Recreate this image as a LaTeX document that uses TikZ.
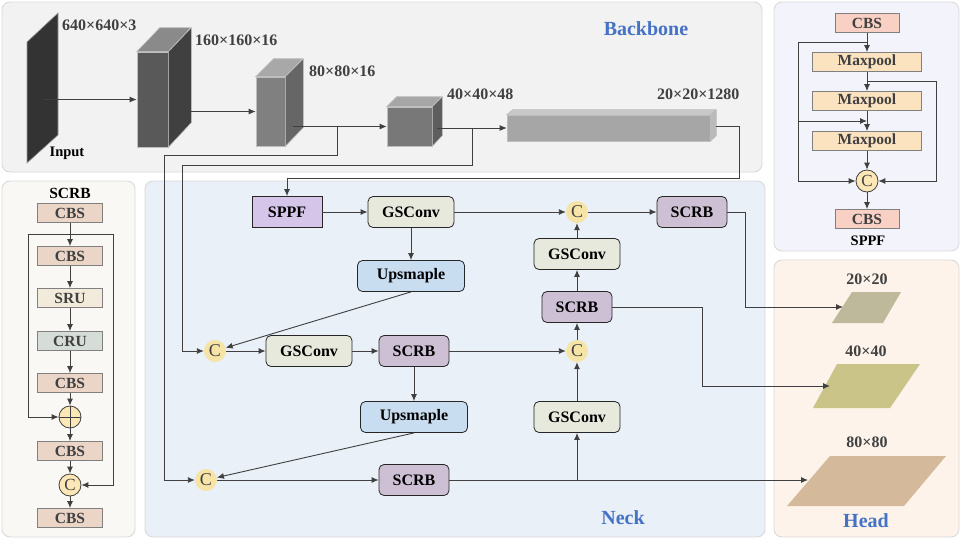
\documentclass[tikz,border=0pt]{standalone}
\usepackage{fontspec}
\setmainfont{Liberation Serif}
\usetikzlibrary{arrows.meta,calc}
\definecolor{linec}{HTML}{404040}
\definecolor{txtc}{HTML}{404040}
\definecolor{bluec}{HTML}{4472C4}
\definecolor{bbc}{HTML}{F2F2F2}
\definecolor{sppfpc}{HTML}{F3F3FC}
\definecolor{scrbpc}{HTML}{F9F8F4}
\definecolor{neckc}{HTML}{E9F0F7}
\definecolor{headc}{HTML}{FDF3EA}
\definecolor{panelc}{HTML}{D9D9D9}
\definecolor{sppfc}{HTML}{D5C5E9}
\definecolor{gscc}{HTML}{E6E9DC}
\definecolor{upsc}{HTML}{C9DDF1}
\definecolor{scrbc}{HTML}{CEC0D4}
\definecolor{catc}{HTML}{F6E3A6}
\definecolor{pcatc}{HTML}{FCE8B6}
\definecolor{cbsc}{HTML}{F9D0C4}
\definecolor{mpc}{HTML}{FBE3C0}
\definecolor{kc}{HTML}{EBD5C7}
\definecolor{sruc}{HTML}{F2EADB}
\definecolor{cruc}{HTML}{D6DCD8}
\definecolor{h20c}{HTML}{BFB99B}
\definecolor{h40c}{HTML}{CBC488}
\definecolor{h80c}{HTML}{D5B99B}

\begin{document}
\begin{tikzpicture}[x=1pt,y=-1pt,
	lnk/.style={draw=linec,line width=0.9pt,-{Latex[length=7pt,width=6pt]}},
	panel/.style={draw=panelc,rounded corners=8pt,line width=0.9pt},
	title/.style={font=\fontsize{20}{20}\selectfont\bfseries,text=bluec,inner sep=0pt},
	dim/.style={font=\fontsize{16}{16}\selectfont\bfseries,text=txtc,inner sep=0pt},
	cube/.style={draw=black!25,line width=0.6pt,inner sep=0pt},
	nb/.style={draw=black!85,rounded corners=5pt,line width=0.8pt,minimum height=31pt,inner sep=0pt,font=\fontsize{16}{16}\selectfont\bfseries},
	gsc/.style={nb,fill=gscc,minimum width=86pt},
	scrb/.style={nb,fill=scrbc,minimum width=70pt},
	ups/.style={nb,fill=upsc,minimum width=107pt},
	cat/.style={circle,fill=catc,minimum size=22pt,inner sep=0pt,text=txtc,font=\fontsize{18}{18}\selectfont},
	sb/.style={draw=black!50,line width=0.8pt,minimum height=19pt,inner sep=0pt,text=txtc,font=\fontsize{15.5}{15.5}\selectfont\bfseries},
	pc/.style={circle,draw=black!75,fill=pcatc,minimum size=22pt,inner sep=0pt,line width=0.8pt,text=txtc,font=\fontsize{17}{17}\selectfont}]
	\useasboundingbox (0,0) rectangle (961,544);
	% panels
	\filldraw[panel,fill=bbc] (2,2) rectangle (762,172);
	\filldraw[panel,fill=sppfpc] (774,2) rectangle (959,251);
	\filldraw[panel,fill=scrbpc] (2,181) rectangle (135,537);
	\filldraw[panel,fill=neckc] (145,181) rectangle (765,537);
	\filldraw[panel,fill=headc] (774,260) rectangle (959,537);
	\node[title] (tbb) at (646,29) {Backbone};
	\node[title] (tneck) at (623,518) {Neck};
	\node[title] (thead) at (866,521) {Head};
	% backbone
	\filldraw[fill=black!80,draw=black!40,line width=0.6pt] (27,42) -- (58,13) -- (58,135) -- (27,163) -- cycle;
	\coordinate (in) at (44,99.5);
	\node[dim,anchor=west] (d640) at (62,25) {640×640×3};
	\node[font=\fontsize{14.5}{14.5}\selectfont\bfseries,inner sep=0pt] (tin) at (67,153) {Input};
	\node[cube,fill=black!65,minimum width=31pt,minimum height=95pt] (c160) at (152.5,99.5) {};
	\filldraw[cube,fill=black!46] (c160.north west) -- ++(23,-24) -- ++(31,0) -- (c160.north east) -- cycle;
	\filldraw[cube,fill=black!75] (c160.north east) -- ++(23,-24) -- ++(0,95) -- (c160.south east) -- cycle;
	\node[dim,anchor=west] (d160) at (195,40) {160×160×16};
	\node[cube,fill=black!50,minimum width=29pt,minimum height=69pt] (c80) at (270.5,111.5) {};
	\filldraw[cube,fill=black!34] (c80.north west) -- ++(18,-18) -- ++(29,0) -- (c80.north east) -- cycle;
	\filldraw[cube,fill=black!60] (c80.north east) -- ++(18,-18) -- ++(0,69) -- (c80.south east) -- cycle;
	\node[dim,anchor=west] (d80) at (309,71) {80×80×16};
	\node[cube,fill=black!53,minimum width=45pt,minimum height=39pt] (c40) at (409.5,126.5) {};
	\filldraw[cube,fill=black!35] (c40.north west) -- ++(10,-10) -- ++(45,0) -- (c40.north east) -- cycle;
	\filldraw[cube,fill=black!63] (c40.north east) -- ++(10,-10) -- ++(0,39) -- (c40.south east) -- cycle;
	\node[dim,anchor=west] (d40) at (447,94) {40×40×48};
	\node[cube,fill=black!35,minimum width=203pt,minimum height=26pt] (bar) at (608.5,128) {};
	\filldraw[cube,fill=black!21] (bar.north west) -- ++(6,-5) -- ++(203,0) -- (bar.north east) -- cycle;
	\filldraw[cube,fill=black!27] (bar.north east) -- ++(6,-5) -- ++(0,26) -- (bar.south east) -- cycle;
	\node[dim,anchor=west] (d20) at (657,94) {20×20×1280};
	\draw[lnk] (in) -- (c160.west);
	\draw[lnk] (c160.east) ++(5,12) -- (c80.west);
	\draw[lnk] (c80.east) ++(8,15) -- (c40.west);
	\draw[lnk] (c40.east) ++(5,1.5) -- (bar.west);
	\coordinate (b80) at (337,126.5);
	\coordinate (b40) at (472,128);
	% neck
	\node[nb,fill=sppfc,rounded corners=0pt,minimum width=70pt] (sppf) at (287,212) {SPPF};
	\node[gsc] (gsc1) at (411,212) {GSConv};
	\node[ups] (up1) at (411,276) {Upsmaple};
	\node[cat] (c1) at (215,351) {C};
	\node[gsc] (gsc2) at (309,351) {GSConv};
	\node[scrb] (scrb2) at (414,351) {SCRB};
	\node[ups] (up2) at (414,417) {Upsmaple};
	\node[cat] (c4) at (206,480) {C};
	\node[scrb] (scrb4) at (414,480) {SCRB};
	\node[cat] (c2) at (577,212) {C};
	\node[scrb] (scrb1) at (692,212) {SCRB};
	\node[gsc] (gsc3) at (577,254) {GSConv};
	\node[scrb] (scrb3) at (577,307) {SCRB};
	\node[cat] (c3) at (577,351) {C};
	\node[gsc] (gsc4) at (577,417) {GSConv};
	\draw[lnk] (b80) |- (164,155) |- (c4.west);
	\draw[lnk] (b40) |- (182,165) |- (c1.west);
	\draw[lnk] (bar.east) ++(6,-2) -| (739,178) -| (sppf.north);
	\draw[lnk] (sppf) -- (gsc1);
	\draw[lnk] (gsc1) -- (c2);
	\draw[lnk] (c2) -- (scrb1);
	\draw[lnk] (gsc1) -- (up1);
	\draw[lnk] (up1.south) -- (c1);
	\draw[lnk] (c1) -- (gsc2);
	\draw[lnk] (gsc2) -- (scrb2);
	\draw[lnk] (scrb2) -- (c3);
	\draw[lnk] (scrb2) -- (up2);
	\draw[lnk] (up2.south) -- (c4);
	\draw[lnk] (c4) -- (scrb4);
	\draw[lnk] (c3) -- (scrb3);
	\draw[lnk] (scrb3) -- (gsc3);
	\draw[lnk] (gsc3) -- (c2);
	\draw[lnk] (gsc4) -- (c3);
	\draw[lnk] (gsc4.south |- scrb4) -- (gsc4);
	% head
	\fill[h20c] (852,292) -- (901,292) -- (883,323) -- (832,323) -- cycle;
	\fill[h40c] (837,364) -- (920,364) -- (890,408) -- (813,408) -- cycle;
	\fill[h80c] (830,456) -- (946,456) -- (904,506) -- (787,506) -- cycle;
	\coordinate (h20) at (843,307);
	\coordinate (h40) at (830,386);
	\coordinate (h80) at (808,480);
	\node[dim] (l20) at (867,279) {20×20};
	\node[dim] (l40) at (866,351) {40×40};
	\node[dim] (l80) at (867,442) {80×80};
	\draw[lnk] (scrb1) -| (745,307) -- (h20);
	\draw[lnk] (scrb3) -| (702,386) -- (h40);
	\draw[lnk] (scrb4) -- (h80);
	% SPPF block
	\node[sb,fill=cbsc,minimum width=64pt] (sc1) at (867,23) {CBS};
	\node[sb,fill=mpc,minimum width=109pt] (mp1) at (867,62) {Maxpool};
	\node[sb,fill=mpc,minimum width=109pt] (mp2) at (867,101) {Maxpool};
	\node[sb,fill=mpc,minimum width=109pt] (mp3) at (867,141) {Maxpool};
	\node[pc] (spc) at (867,181) {C};
	\node[sb,fill=cbsc,minimum width=64pt] (sc2) at (867,219) {CBS};
	\node[font=\fontsize{14.5}{14.5}\selectfont\bfseries,inner sep=0pt] (tsppf) at (868,241) {SPPF};
	\coordinate (sl) at (798,121);
	\draw[lnk] (sc1) -- (mp1);
	\draw[lnk] (mp1) -- (mp2);
	\draw[lnk] (mp2) -- (mp3);
	\draw[lnk] (mp3) -- (spc);
	\draw[lnk] (spc) -- (sc2);
	\draw[lnk] ($(sc1.south)!.5!(mp1.north)$) -| (798,181) -- (spc);
	\draw[lnk] ($(mp1.south)!.5!(mp2.north)$) -| (936,181) -- (spc);
	\draw[lnk] (sl) -- (sl -| mp3.north);
	% SCRB block
	\node[font=\fontsize{15.5}{15.5}\selectfont\bfseries,inner sep=0pt] (tscrb) at (70,193) {SCRB};
	\node[sb,fill=kc,minimum width=65pt] (k1) at (70,213) {CBS};
	\node[sb,fill=kc,minimum width=65pt] (k2) at (70,256) {CBS};
	\node[sb,fill=sruc,minimum width=65pt] (sru) at (70,298) {SRU};
	\node[sb,fill=cruc,minimum width=65pt] (cru) at (70,341) {CRU};
	\node[sb,fill=kc,minimum width=65pt] (k3) at (70,383) {CBS};
	\node[pc] (add) at (70,417) {};
	\draw[draw=black!75,line width=0.8pt] (add.north) -- (add.south) (add.west) -- (add.east);
	\node[sb,fill=kc,minimum width=65pt] (k4) at (70,451) {CBS};
	\node[pc] (kcat) at (70,485) {C};
	\node[sb,fill=kc,minimum width=65pt] (k5) at (70,518) {CBS};
	\draw[lnk] (k1) -- (k2);
	\draw[lnk] (k2) -- (sru);
	\draw[lnk] (sru) -- (cru);
	\draw[lnk] (cru) -- (k3);
	\draw[lnk] (k3) -- (add);
	\draw[lnk] (add) -- (k4);
	\draw[lnk] (k4) -- (kcat);
	\draw[lnk] (kcat) -- (k5);
	\draw[lnk] ($(k1.south)!.5!(k2.north)$) -| (28,417) -- (add);
	\draw[lnk] ($(k1.south)!.5!(k2.north)$) -| (113,485) -- (kcat);
\end{tikzpicture}
\end{document}
